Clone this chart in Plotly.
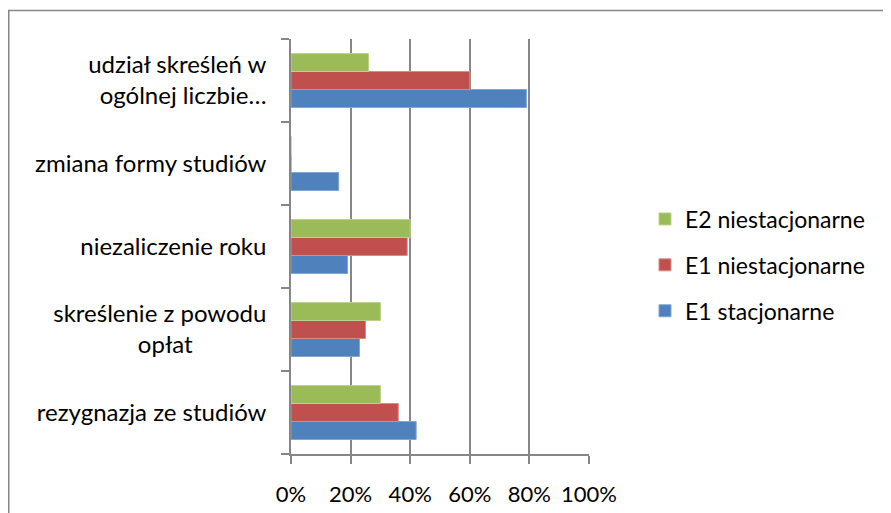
import plotly.graph_objects as go

categories = [
    "rezygnazja ze studiów",
    "skreślenie z powodu<br>\u00a0\u00a0\u00a0\u00a0\u00a0\u00a0\u00a0\u00a0\u00a0\u00a0\u00a0\u00a0opłat\u00a0\u00a0\u00a0\u00a0\u00a0\u00a0\u00a0\u00a0\u00a0\u00a0\u00a0\u00a0",
    "niezaliczenie roku",
    "zmiana formy studiów",
    "udział skreśleń w<br>ogólnej liczbie…",
]
e1_stacjonarne = [0.42, 0.23, 0.19, 0.16, 0.79]
e1_niestacjonarne = [0.36, 0.25, 0.39, 0.0, 0.60]
e2_niestacjonarne = [0.30, 0.30, 0.40, 0.0, 0.26]

series = [
    ("E1 stacjonarne", e1_stacjonarne, "#4F81BD", "#7FA6D6", 3),
    ("E1 niestacjonarne", e1_niestacjonarne, "#C0504D", "#DA8A88", 2),
    ("E2 niestacjonarne", e2_niestacjonarne, "#9BBB59", "#BCD38E", 1),
]

fig = go.Figure()
for name, vals, col, edge, rank in series:
    fig.add_trace(go.Bar(
        y=categories, x=vals, name=name, orientation="h",
        marker=dict(color=col, line=dict(color=edge, width=1)),
        legendgroup=name, legendrank=rank,
    ))

# page body has 8px default margin, so the figure is laid out 8px smaller
W, H = 883, 505
ml, mr, mt, mb = 283, 302, 31, 59
pw, ph = W - ml - mr, H - mt - mb

fig.update_layout(
    width=W, height=H,
    margin=dict(l=ml, r=mr, t=mt, b=mb, autoexpand=False),
    paper_bgcolor="white", plot_bgcolor="white",
    barmode="group", bargap=0.35, bargroupgap=0,
    font=dict(family="Lato", size=24, color="#000000"),
    showlegend=True,
    legend=dict(
        traceorder="grouped", tracegroupgap=13,
        x=(637 - ml) / pw, y=1 - (257 - mt) / ph, xanchor="left", yanchor="middle",
        font=dict(family="Lato", size=23),
        itemwidth=30,
    ),
    xaxis=dict(
        range=[0, 1], tickvals=[0, 0.2, 0.4, 0.6, 0.8, 1.0],
        tickformat=".0%", showgrid=True, gridcolor="#868686", gridwidth=1.5,
        showline=True, linecolor="#868686", linewidth=1.5,
        ticks="outside", ticklen=8, tickcolor="#868686", tickwidth=1.5,
        ticklabelstandoff=12, zeroline=False, fixedrange=True, automargin=False,
        tickfont=dict(size=22),
    ),
    yaxis=dict(
        type="category", tickson="boundaries", showgrid=False,
        showline=True, linecolor="#868686", linewidth=1.5,
        ticks="outside", ticklen=8, tickcolor="#868686", tickwidth=1.5,
        ticklabelstandoff=18, fixedrange=True, automargin=False,
    ),
    shapes=[dict(
        type="rect", xref="paper", yref="paper",
        x0=(0.75 - ml) / pw, x1=(W + 10 - ml) / pw,
        y0=-(H + 10 - mt - ph) / ph, y1=(H - 2.5 - mb) / ph,
        line=dict(color="#868686", width=1.5), fillcolor="rgba(0,0,0,0)",
        layer="above",
    )],
)

fig.write_html("out.html")
